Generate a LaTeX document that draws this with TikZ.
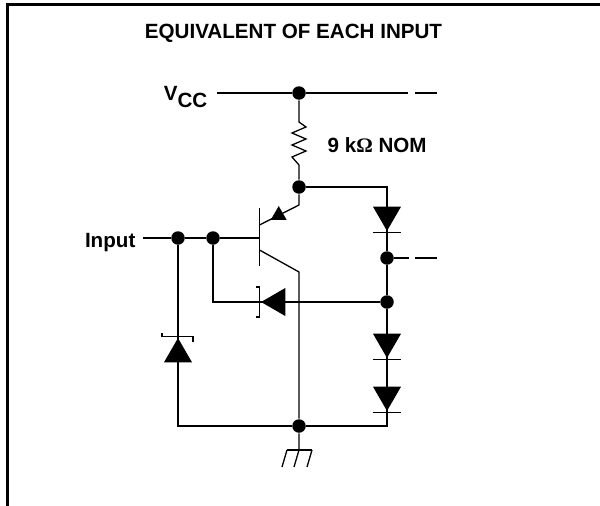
\documentclass[tikz,border=0pt]{standalone}
\usepackage{fontspec}
\setmainfont{Liberation Sans}
\newfontfamily\omegafont{Liberation Serif}
\usetikzlibrary{positioning,shapes.geometric}
\tikzset{
	wire/.style={line width=1.3pt},
	dot/.style={circle,fill=black,inner sep=0pt,minimum size=13.5pt},
	diode/.style={regular polygon,regular polygon sides=3,fill=black,inner sep=0pt,minimum size=32.3pt},
	tag/.style={inner sep=0pt,font=\fontsize{20.6}{22}\selectfont\bfseries}
}

\begin{document}
\begin{tikzpicture}
			[x=1pt,y=1pt,node distance=40pt,on grid,wire] 
			\useasboundingbox (0,0) rectangle (600,-506);
			\draw[line width=3pt] (7,-506) -- (7,-4.5) -- (600,-4.5);
			\node[tag,anchor=base] (title) at (293.5,-38) {EQUIVALENT OF EACH INPUT};
			
			\node[dot] (j_vcc) at (299,-93) {};
			\node[dot] (j_res) [below=94pt of j_vcc] {};
			\node[dot] (j_gnd) [below=239pt of j_res] {};
			\node[dot] (j_ref) [right=88pt of j_res,yshift=-115pt] {};
			\node[dot] (j_mid) [above=44pt of j_ref] {};
			\node[dot] (j_base) at (213,-238) {};
			\node[dot] (j_in) [left=35pt of j_base] {};
			
			\node[diode,shape border rotate=180] (d_1) at (387,-214.8) {};
			\node[diode,shape border rotate=180] (d_2) [below=127pt of d_1] {};
			\node[diode,shape border rotate=180] (d_3) [below=53pt of d_2] {};
			\node[diode,shape border rotate=90] (d_clamp) at (277.2,-302) {};
			\node[diode] (d_in) at (178,-354.2) {};
			\node[diode,minimum size=18.5pt] (d_em) at (278.7,-215.3) {};
			
			\coordinate (c_vccl) at (217,-93);
			\coordinate (c_vccr) at (408,-93);
			\coordinate (c_vccd) at (415,-93);
			\coordinate (c_vcce) at (437,-93);
			\coordinate (c_midr) at (409,-258);
			\coordinate (c_midd) at (415,-258);
			\coordinate (c_mide) at (437,-258);
			\coordinate (c_input) at (143,-238);
			\coordinate (c_bt) at (259.5,-208);
			\coordinate (c_bb) at (259.5,-266);
			\coordinate (c_b) at (259.5,-238);
			\coordinate (c_e) at (259.5,-225);
			\coordinate (c_c) at (259.5,-250);
			\coordinate (c_ek) at (299,-205);
			\coordinate (c_ck) at (299,-272);
			\coordinate (c_gnd) at (299,-450);
			
			\node[tag,anchor=base east] (vcc) at (208,-100) {V\raisebox{-7pt}{CC}};
			\node[tag,anchor=base west] (nom) at (327,-152) {9 k{\omegafont Ω} NOM};
			\node[tag,anchor=base east] (input) at (136,-247.5) {Input};
			
			\draw (c_vccl) -- (j_vcc) -- (c_vccr);
			\draw (c_vccd) -- (c_vcce);
			\draw (j_vcc) -- ++(0,-29) -- ++(7,-5) -- ++(-14,-6) -- ++(14,-6) -- ++(-14,-6) -- ++(14,-6) -- ++(-14,-6) -- ++(7,-8) -- (j_res);
			\draw (j_res) -- (c_ek) -- (c_e);
			\draw (c_bt) -- (c_bb);
			\draw (c_input) -- (j_in) -- (j_base) -- (c_b);
			\draw (c_c) -- (c_ck) -- (j_gnd) -- (c_gnd);
			\draw (j_res) -| (d_1.corner 1) -- (j_mid) -- (j_ref) -- (d_2.corner 1) -- (d_3.corner 1) |- (j_gnd) -| (d_in.corner 1);
			\draw (d_in.corner 1) -- (j_in);
			\draw (j_mid) -- (c_midr);
			\draw (c_midd) -- (c_mide);
			\draw (j_base) |- (d_clamp.corner 1);
			\draw (d_clamp.corner 1) -- (j_ref);
			
			% cathode bars
			\draw (d_1.corner 1) ++(-14,0) -- ++(28,0);
			\draw (d_2.corner 1) ++(-14,0) -- ++(28,0);
			\draw (d_3.corner 1) ++(-14,0) -- ++(28,0);
			\draw (d_clamp.corner 1) ++(-4,15) -- ++(4,0) -- ++(0,-30) -- ++(-4,0);
			\draw (d_in.corner 1) ++(-16,4) -- ++(0,-4) -- ++(31,0) -- ++(0,-5);
			
			% ground
			\draw (c_gnd) ++(-12,0) -- ++(25,0);
			\draw (c_gnd) ++(-12,0) -- ++(-5,-17);
			\draw (c_gnd) ++(0,0) -- ++(-5,-17);
			\draw (c_gnd) ++(13,0) -- ++(-5,-17);
		\end{tikzpicture}
\end{document}
